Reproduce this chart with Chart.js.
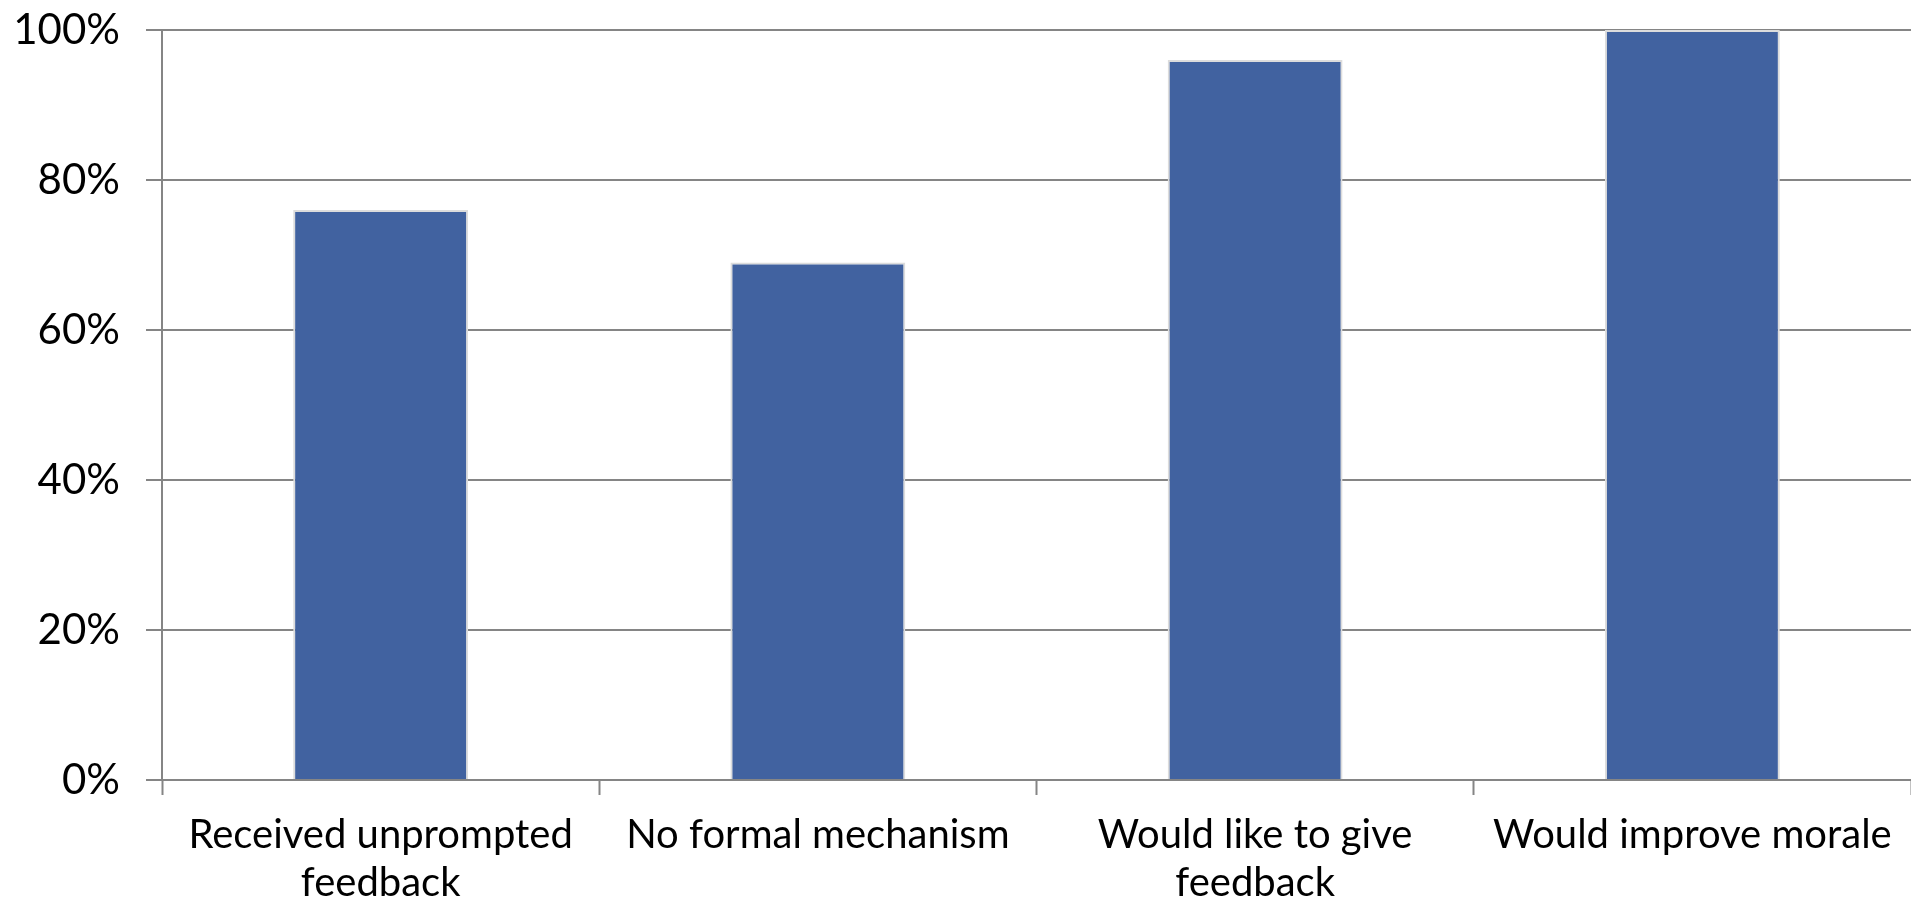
<!DOCTYPE html>
<html>
<head>
<meta charset="utf-8">
<script src="https://cdn.jsdelivr.net/npm/chart.js@4"></script>
<style>
  html, body { margin: 0; padding: 0; background: #fff; }
  #wrap { width: 1911px; height: 901px; }
</style>
</head>
<body>
<div id="wrap"><canvas id="chart"></canvas></div>
<script>
// Données du graphique
const categories = [
  ['Received unprompted', 'feedback'],
  'No formal mechanism',
  ['Would like to give', 'feedback'],
  'Would improve morale'
];
const values = [76, 69, 96, 100]; // en %
const yTicks = [0, 20, 40, 60, 80, 100];

const gris = '#858585';

new Chart(document.getElementById('chart'), {
  type: 'bar',
  data: {
    labels: categories,
    datasets: [{
      data: values,
      backgroundColor: '#4162A0',
      borderColor: '#dcdcdc',
      borderWidth: 2,
      barPercentage: 0.4,
      categoryPercentage: 1
    }]
  },
  options: {
    responsive: true,
    maintainAspectRatio: false,
    animation: false,
    layout: { padding: { top: 30, right: 0, left: 0, bottom: 0 } },
    plugins: {
      legend: { display: false },
      tooltip: { enabled: false }
    },
    scales: {
      x: {
        grid: {
          drawOnChartArea: false,
          drawTicks: true,
          tickLength: 15,
          tickWidth: 2,
          color: gris
        },
        border: { color: gris, width: 2 },
        ticks: {
          color: '#000',
          font: { family: 'Lato', size: 40, lineHeight: 1.2 },
          padding: 16,
          maxRotation: 0,
          autoSkip: false
        },
        afterFit: scale => { scale.height = 121; scale.paddingLeft = 0; scale.paddingRight = 0; }
      },
      y: {
        min: 0,
        max: 100,
        afterBuildTicks: scale => { scale.ticks = yTicks.map(v => ({ value: v })); },
        grid: {
          color: gris,
          lineWidth: 2,
          tickLength: 16
        },
        border: { color: gris, width: 2 },
        ticks: {
          color: '#000',
          font: { family: 'Lato', size: 42 },
          padding: 26,
          callback: v => v + '%'
        },
        afterFit: scale => { scale.width = 162; scale.paddingTop = 0; scale.paddingBottom = 0; }
      }
    }
  }
});
</script>
</body>
</html>
